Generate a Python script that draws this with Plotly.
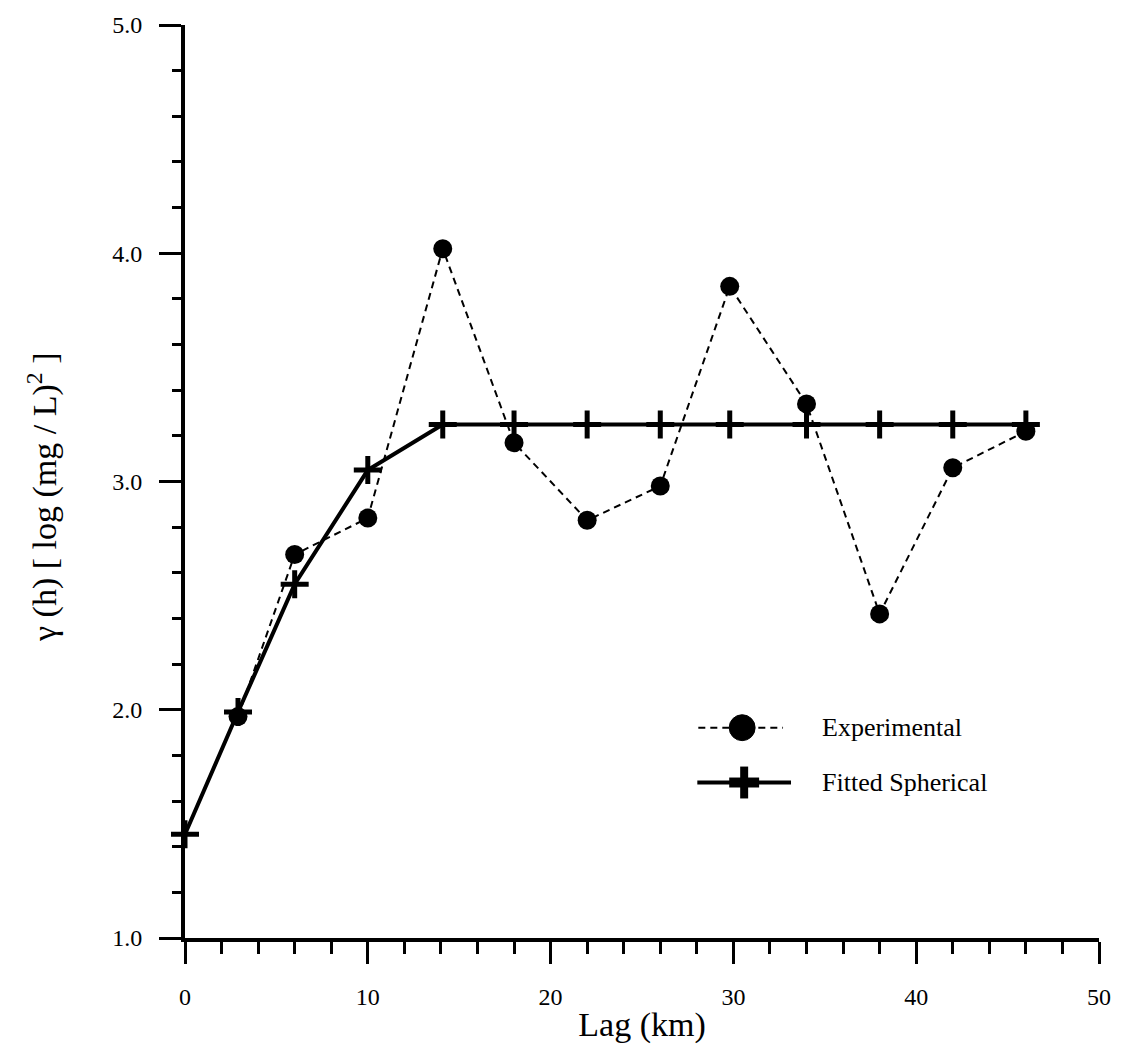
import plotly.graph_objects as go

# Semivariogram of log concentration vs. lag distance
exp_lag = [2.9, 6.0, 10.0, 14.1, 18.0, 22.0, 26.0, 29.8, 34.0, 38.0, 42.0, 46.0]
exp_gamma = [1.97, 2.68, 2.84, 4.02, 3.17, 2.83, 2.98, 3.855, 3.34, 2.42, 3.06, 3.22]

fit_lag = [0.0, 2.9, 6.0, 10.0, 14.1, 18.0, 22.0, 26.0, 29.8, 34.0, 38.0, 42.0, 46.0]
fit_gamma = [1.455, 1.99, 2.55, 3.05, 3.25, 3.25, 3.25, 3.25, 3.25, 3.25, 3.25, 3.25, 3.25]

x_ticks = [0, 10, 20, 30, 40, 50]
y_ticks = [1.0, 2.0, 3.0, 4.0, 5.0]

FONT = "Liberation Serif"

fig = go.Figure()

fig.add_trace(go.Scatter(
    x=fit_lag, y=fit_gamma, mode="lines+markers", name="Fitted Spherical",
    line=dict(color="black", width=4),
    marker=dict(symbol="cross-thin", size=20, line=dict(color="black", width=5)),
    cliponaxis=False, showlegend=False,
))
fig.add_trace(go.Scatter(
    x=exp_lag, y=exp_gamma, mode="lines+markers", name="Experimental",
    line=dict(color="black", width=2, dash="7px,5px"),
    marker=dict(symbol="circle", size=19, color="black"),
    cliponaxis=False, showlegend=False,
))

W, H = 1123, 1051
L, R, T, B = 185, 21, 22, 113
pw, ph = W - L - R, H - T - B


def px(xp):
    return (xp - L) / pw


def py(yp):
    return (H - B - yp) / ph


shapes = []
# legend sample: dashed line with filled circle
shapes.append(dict(type="line", xref="paper", yref="paper",
                   x0=px(700), x1=px(785), y0=py(727), y1=py(727),
                   line=dict(color="black", width=2, dash="7px,5px")))
shapes.append(dict(type="circle", xref="paper", yref="paper",
                   x0=px(731), x1=px(757), y0=py(740), y1=py(714),
                   fillcolor="black", line=dict(color="black", width=1)))
# legend sample: solid line with plus
shapes.append(dict(type="line", xref="paper", yref="paper",
                   x0=px(699), x1=px(793), y0=py(782), y1=py(782),
                   line=dict(color="black", width=4)))
shapes.append(dict(type="rect", xref="paper", yref="paper",
                   x0=px(731), x1=px(761), y0=py(787), y1=py(777),
                   fillcolor="black", line=dict(width=0)))
shapes.append(dict(type="rect", xref="paper", yref="paper",
                   x0=px(742), x1=px(750), y0=py(798), y1=py(766),
                   fillcolor="black", line=dict(width=0)))

annotations = [
    dict(text="Experimental", xref="paper", yref="paper", x=px(822), y=py(727),
         xanchor="left", yanchor="middle", showarrow=False,
         font=dict(family=FONT, size=26, color="black")),
    dict(text="Fitted Spherical", xref="paper", yref="paper", x=px(822), y=py(782),
         xanchor="left", yanchor="middle", showarrow=False,
         font=dict(family=FONT, size=26, color="black")),
    dict(text="\u03b3 (h) [ log (mg / L)<sup>2</sup> ]", xref="paper", yref="paper",
         x=px(42), y=py(496), xanchor="center", yanchor="middle", textangle=-90,
         showarrow=False, font=dict(family=FONT, size=34, color="black")),
]

fig.update_layout(
    width=W, height=H,
    margin=dict(l=L, r=R, t=T, b=B),
    paper_bgcolor="white", plot_bgcolor="white",
    showlegend=False,
    shapes=shapes,
    annotations=annotations,
    xaxis=dict(
        range=[0, 50], tickvals=x_ticks, ticktext=[str(v) for v in x_ticks],
        showgrid=False, zeroline=False,
        showline=True, linecolor="black", linewidth=4,
        ticks="outside", ticklen=22, tickwidth=3, tickcolor="black",
        ticklabelstandoff=12,
        minor=dict(dtick=2, tick0=0, ticks="outside", ticklen=12, tickwidth=3,
                   tickcolor="black", showgrid=False),
        tickfont=dict(family=FONT, size=24, color="black"),
        title=dict(text="Lag (km)", font=dict(family=FONT, size=34, color="black"),
                   standoff=4),
    ),
    yaxis=dict(
        range=[1, 5], tickvals=y_ticks, ticktext=[f"{v:.1f}" for v in y_ticks],
        showgrid=False, zeroline=False,
        showline=True, linecolor="black", linewidth=4,
        ticks="outside", ticklen=22, tickwidth=3, tickcolor="black",
        ticklabelstandoff=12,
        minor=dict(dtick=0.2, tick0=1, ticks="outside", ticklen=9, tickwidth=3,
                   tickcolor="black", showgrid=False),
        tickfont=dict(family=FONT, size=24, color="black"),
    ),
)

fig.write_html("out.html")
